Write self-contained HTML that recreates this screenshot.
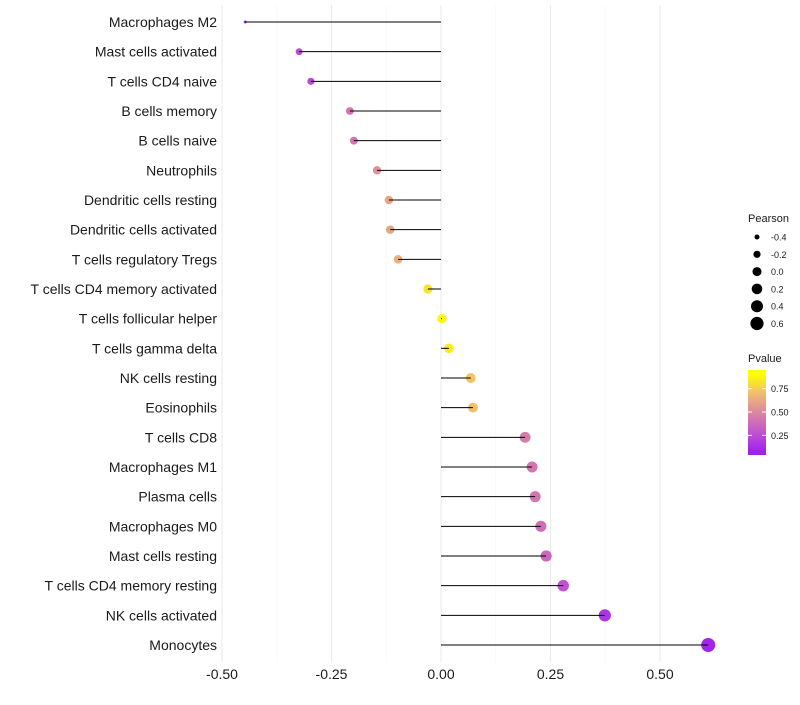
<!DOCTYPE html>
<html><head><meta charset="utf-8"><style>
body{margin:0;background:#fff;font-family:"Liberation Sans",sans-serif}
</style></head><body>
<svg id="chart" width="800" height="700" xmlns="http://www.w3.org/2000/svg" font-family="Liberation Sans, sans-serif"></svg>
<script>
const categories=["Macrophages M2","Mast cells activated","T cells CD4 naive","B cells memory","B cells naive","Neutrophils","Dendritic cells resting","Dendritic cells activated","T cells regulatory  Tregs ","T cells CD4 memory activated","T cells follicular helper","T cells gamma delta","NK cells resting","Eosinophils","T cells CD8","Macrophages M1","Plasma cells","Macrophages M0","Mast cells resting","T cells CD4 memory resting","NK cells activated","Monocytes"];
const pearson=[-0.447,-0.324,-0.297,-0.208,-0.199,-0.146,-0.119,-0.116,-0.098,-0.030,0.002,0.018,0.068,0.073,0.192,0.208,0.215,0.228,0.240,0.279,0.374,0.610];
const pvalues=[0.03,0.2,0.2,0.42,0.42,0.55,0.65,0.65,0.7,0.9,0.97,0.93,0.78,0.76,0.45,0.42,0.42,0.38,0.35,0.25,0.1,0.02];
const xTicks=[-0.5,-0.25,0,0.25,0.5];
const xTickLabels=["-0.50","-0.25","0.00","0.25","0.50"];
const sizeLegend=[-0.4,-0.2,0.0,0.2,0.4,0.6];
const colorTicks=[0.25,0.5,0.75];

const svg=document.getElementById('chart');
const NS="http://www.w3.org/2000/svg";
function mk(t,a,p){const e=document.createElementNS(NS,t);for(const k in a)e.setAttribute(k,a[k]);(p||svg).appendChild(e);return e;}
const x=v=>441+v*438;
const y=i=>22+i*(623/21);
const r=v=>v<-0.32?Math.max(1.5,1.5+2*(v+0.447)/0.127):3.5+3.5*(v+0.32)/0.93;
const stops=[[0,[160,32,240]],[0.25,[192,84,208]],[0.5,[218,134,160]],[0.75,[240,188,112]],[1,[255,255,0]]];
function col(p){p=Math.max(0,Math.min(1,p));for(let i=1;i<stops.length;i++){if(p<=stops[i][0]){const a=stops[i-1],b=stops[i];const t=(p-a[0])/(b[0]-a[0]);const c=a[1].map((v,j)=>Math.round(v+(b[1][j]-v)*t));return `rgb(${c})`;}}}
const pv=p=>455-(p-0.04)/(0.91)*85;

for(let v=-0.5;v<=0.6001;v+=0.125){const major=Math.abs(v/0.25-Math.round(v/0.25))<1e-6;
const g=mk('line',{x1:x(v),x2:x(v),y1:5,y2:662,stroke:major?'#ebebeb':'#f5f5f5','stroke-width':major?1.1:0.6});
}
xTicks.forEach((v,i)=>{const t=mk('text',{x:x(v),y:679,'text-anchor':'middle','font-size':14,fill:'#1a1a1a'});t.textContent=xTickLabels[i];
});
categories.forEach((c,i)=>{
const t=mk('text',{x:217,y:y(i)+5,'text-anchor':'end','font-size':14,fill:'#1a1a1a'});t.textContent=c;

const d=mk('circle',{cx:x(pearson[i]),cy:y(i),r:r(pearson[i]),fill:col(pvalues[i])});

const l=mk('line',{x1:x(0),x2:x(pearson[i]),y1:y(i),y2:y(i),stroke:'#000','stroke-width':1});

});
const st=mk('text',{x:748,y:222,'font-size':11,fill:'#1a1a1a'});st.textContent='Pearson';

const legR=[2.5,3.6,4.5,5.3,6.0,6.6];
sizeLegend.forEach((v,i)=>{const cy=237+i*17.3;
const c=mk('circle',{cx:757,cy:cy,r:legR[i],fill:'#000'});
const t=mk('text',{x:771,y:cy+3.5,'font-size':9,fill:'#1a1a1a'});t.textContent=v.toFixed(1);
});
const ct=mk('text',{x:748,y:362,'font-size':11,fill:'#1a1a1a'});ct.textContent='Pvalue';

const defs=mk('defs',{});const lg=mk('linearGradient',{id:'pg',x1:0,y1:1,x2:0,y2:0},defs);
stops.forEach(s=>mk('stop',{offset:(0.04+s[0]*0.91),'stop-color':`rgb(${s[1]})`},lg));
const bar=mk('rect',{x:748,y:370,width:18,height:85,fill:'url(#pg)'});

colorTicks.forEach(p=>{const yy=pv(p);
mk('line',{x1:748,x2:752,y1:yy,y2:yy,stroke:'#fff'});mk('line',{x1:762,x2:766,y1:yy,y2:yy,stroke:'#fff'});
const t=mk('text',{x:771,y:yy+3.5,'font-size':9,fill:'#1a1a1a'});t.textContent=p.toFixed(2);
});
</script>
</body></html>
